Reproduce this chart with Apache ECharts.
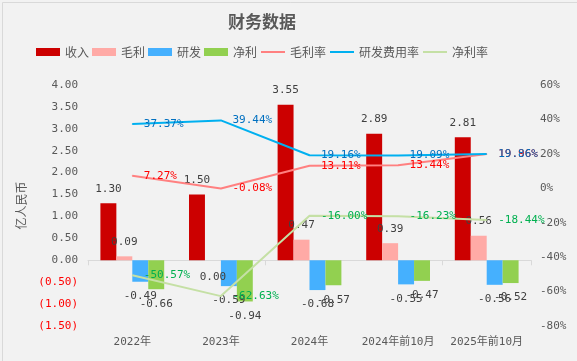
<!DOCTYPE html>
<html>
<head>
<meta charset="utf-8">
<script src="https://cdn.jsdelivr.net/npm/echarts@6/dist/echarts.min.js"></script>
<style>html,body{margin:0;padding:0;background:#f2f2f2;}#c{width:577px;height:361px;}</style>
</head>
<body>
<div id="c"></div>
<script>
// ---- data ----
var categories = ['2022年', '2023年', '2024年', '2024年前10月', '2025年前10月'];
var revenue = [1.30, 1.50, 3.55, 2.89, 2.81];
var grossProfit = [0.09, 0.00, 0.47, 0.39, 0.56];
var rnd = [-0.49, -0.59, -0.68, -0.55, -0.56];
var netProfit = [-0.66, -0.94, -0.57, -0.47, -0.52];
var grossMargin = [7.27, -0.08, 13.11, 13.44, 19.96];
var rndRate = [37.37, 39.44, 19.16, 19.09, 19.86];
var netMargin = [-50.57, -62.63, -16.00, -16.23, -18.44];

var NUM_FONT = '"DejaVu Sans Mono", "Noto Sans CJK SC", monospace';
var CJK_FONT = '"Noto Sans CJK SC", "DejaVu Sans", sans-serif';

var chart = echarts.init(document.getElementById('c'), null, {renderer: 'canvas'});

function barLabel(pos) {
  return {
    show: true, position: pos, distance: 9,
    color: '#404040', fontSize: 11, fontFamily: NUM_FONT,
    formatter: function (p) { return (+p.value).toFixed(2); }
  };
}
function lineLabel(color) {
  return {
    show: true, position: 'right', distance: 11,
    color: color, fontSize: 11, fontFamily: NUM_FONT,
    formatter: function (p) { return (+p.value).toFixed(2) + '%'; }
  };
}

var grossData = grossProfit.map(function (v) {
  if (v === 0) return {value: v, label: {position: 'bottom', distance: 11}};
  return v;
});

var option = {
  backgroundColor: '#f2f2f2',
  animation: false,
  graphic: [{
    type: 'rect', left: 0, top: 0, silent: true,
    shape: {x: 0.5, y: 0.5, width: 576, height: 360},
    style: {fill: 'none', stroke: '#d9d9d9', lineWidth: 1}
  }],
  title: {
    text: '财务数据', left: 223, top: 8,
    textStyle: {fontSize: 17, fontWeight: 'bold', color: '#595959', fontFamily: CJK_FONT}
  },
  legend: {
    left: 31, top: 41, itemGap: 3, itemWidth: 24, itemHeight: 8,
    textStyle: {fontSize: 12, color: '#595959', fontFamily: CJK_FONT},
    data: [
      {name: '收入', icon: 'rect'},
      {name: '毛利', icon: 'rect'},
      {name: '研发', icon: 'rect'},
      {name: '净利', icon: 'rect'},
      {name: '毛利率', itemStyle: {opacity: 0}},
      {name: '研发费用率', itemStyle: {opacity: 0}},
      {name: '净利率', itemStyle: {opacity: 0}}
    ]
  },
  grid: {left: 88, right: 46, top: 85, bottom: 35, containLabel: false},
  xAxis: [{
    type: 'category', data: categories, position: 'bottom',
    axisLine: {show: false, onZero: false},
    axisTick: {show: false},
    axisLabel: {color: '#595959', fontSize: 11, fontFamily: NUM_FONT, margin: 11, interval: 0}
  }, {
    type: 'category', data: categories, position: 'bottom',
    axisLine: {show: true, onZero: true, onZeroAxisIndex: 0, lineStyle: {color: '#d9d9d9', width: 1}},
    axisTick: {show: true, length: 5, lineStyle: {color: '#d9d9d9'}},
    axisLabel: {show: false}
  }],
  yAxis: [{
    type: 'value', min: -1.5, max: 4, interval: 0.5,
    name: '亿人民币', nameLocation: 'middle', nameGap: 48, nameRotate: 90,
    nameTextStyle: {color: '#595959', fontSize: 12, fontFamily: CJK_FONT},
    axisLine: {show: false}, axisTick: {show: false}, splitLine: {show: false},
    axisLabel: {
      color: '#595959', fontSize: 11, fontFamily: NUM_FONT, margin: 10,
      formatter: function (v) {
        return v < 0 ? '{neg|(' + Math.abs(v).toFixed(2) + ')}' : v.toFixed(2);
      },
      rich: {neg: {color: '#ff0000', fontSize: 11, fontFamily: NUM_FONT}}
    }
  }, {
    type: 'value', min: -80, max: 60, interval: 20,
    axisLine: {show: false}, axisTick: {show: false}, splitLine: {show: false},
    axisLabel: {color: '#595959', fontSize: 11, fontFamily: NUM_FONT, margin: 9,
      formatter: function (v) { return v + '%'; }}
  }],
  series: [
    {name: '收入', type: 'bar', data: revenue, barGap: '0%', barCategoryGap: '28%',
      itemStyle: {color: '#cc0000'}, label: barLabel('top')},
    {name: '毛利', type: 'bar', data: grossData, itemStyle: {color: '#ffaaa6'}, label: barLabel('top')},
    {name: '研发', type: 'bar', data: rnd, itemStyle: {color: '#45b0fe'}, label: barLabel('bottom')},
    {name: '净利', type: 'bar', data: netProfit, itemStyle: {color: '#92d050'}, label: barLabel('bottom')},
    {name: '毛利率', type: 'line', yAxisIndex: 1, data: grossMargin, z: 5,
      symbol: 'circle', symbolSize: 1, showSymbol: true,
      lineStyle: {color: '#ff8080', width: 2}, itemStyle: {color: '#ff8080'},
      label: lineLabel('#ff0000')},
    {name: '研发费用率', type: 'line', yAxisIndex: 1, data: rndRate, z: 5,
      symbol: 'circle', symbolSize: 1, showSymbol: true,
      lineStyle: {color: '#00b0f0', width: 2}, itemStyle: {color: '#00b0f0'},
      label: lineLabel('#0070c0')},
    {name: '净利率', type: 'line', yAxisIndex: 1, data: netMargin, z: 5,
      symbol: 'circle', symbolSize: 1, showSymbol: true,
      lineStyle: {color: '#c5e0a5', width: 2}, itemStyle: {color: '#c5e0a5'},
      label: lineLabel('#00b050')}
  ]
};
chart.setOption(option);
</script>
</body>
</html>
